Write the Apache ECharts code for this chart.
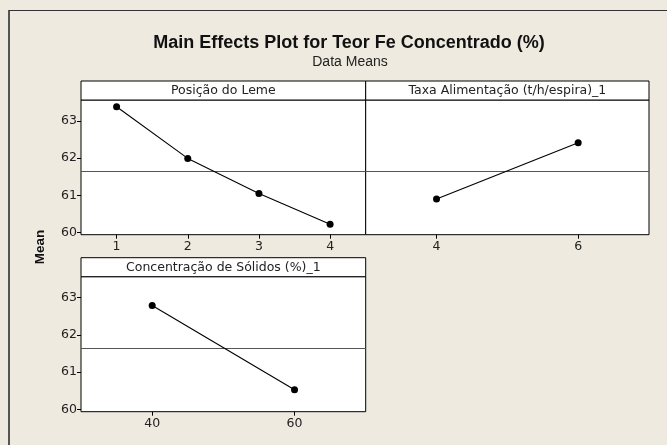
<!DOCTYPE html>
<html>
<head>
<meta charset="utf-8">
<script src="https://cdn.jsdelivr.net/npm/echarts@6/dist/echarts.min.js"></script>
<style>
html,body{margin:0;padding:0;background:#EEEAE0;}
#c{width:667px;height:445px;}
</style>
</head>
<body>
<div id="c"></div>
<script>
// ---- data ----
const posicaoLevels = [1, 2, 3, 4];
const posicaoMeans  = [63.38, 61.99, 61.05, 60.22];
const taxaLevels    = [4, 6];
const taxaMeans     = [60.90, 62.41];
const concLevels    = [40, 60];
const concMeans     = [62.79, 60.53];
const grandMean     = 61.65;
const yTicks        = [60, 61, 62, 63];
const panelTitles   = ['Posição do Leme', 'Taxa Alimentação (t/h/espira)_1', 'Concentração de Sólidos (%)_1'];

// ---- layout ----
const L = 81, MID = 365.7, R = 649;
const TOP1 = 100, H1 = 134.7, TOP2 = 276.7, H2 = 135, STRIP = 19;
const BG = '#EEEAE0';
const TXT = '#222';
const tickFont = {fontFamily: 'DejaVu Sans', fontSize: 12.5, color: TXT};

function grid(left, top, width, height) {
  return {left: left, top: top, width: width, height: height, show: true,
    backgroundColor: '#fff', borderColor: '#000', borderWidth: 1, containLabel: false};
}
function xAx(idx, min, max, ticks) {
  return {type: 'value', gridIndex: idx, min: min, max: max,
    axisLine: {show: false}, splitLine: {show: false},
    axisTick: {show: true, inside: false, length: 4, customValues: ticks, lineStyle: {color: '#000'}},
    axisLabel: Object.assign({show: true, margin: 6, customValues: ticks}, tickFont)};
}
function yAx(idx, show) {
  return {type: 'value', gridIndex: idx, min: 59.94, max: 63.56,
    axisLine: {show: false}, splitLine: {show: false},
    axisTick: {show: show, inside: false, length: 4, customValues: yTicks, lineStyle: {color: '#000'}},
    axisLabel: Object.assign({show: show, margin: 4, customValues: yTicks}, tickFont)};
}
function pts(xs, ys) { return xs.map((x, i) => [x, ys[i]]); }
function ser(idx, xs, ys) {
  return {type: 'line', xAxisIndex: idx, yAxisIndex: idx, data: pts(xs, ys),
    symbol: 'circle', symbolSize: 7, itemStyle: {color: '#000'},
    lineStyle: {color: '#000', width: 1.1}, animation: false, z: 5,
    markLine: {silent: true, symbol: 'none', label: {show: false}, animation: false,
      lineStyle: {color: '#555', width: 1, type: 'solid'}, data: [{yAxis: grandMean}]}};
}
function strip(x1, x2, y, text) {
  return [
    {type: 'rect', shape: {x: x1, y: y - STRIP, width: x2 - x1, height: STRIP},
      style: {fill: '#fff', stroke: '#000', lineWidth: 1}, z: 10},
    {type: 'text', x: (x1 + x2) / 2, y: y - STRIP / 2 + 0.5, z: 11,
      style: {text: text, fill: TXT, align: 'center', verticalAlign: 'middle',
        font: '12.5px "DejaVu Sans"'}}
  ];
}

const chart = echarts.init(document.getElementById('c'), null, {renderer: 'canvas'});
chart.setOption({
  backgroundColor: BG,
  animation: false,
  title: [
    {text: 'Main Effects Plot for Teor Fe Concentrado (%)', left: 344, top: 29, textAlign: 'center',
      textStyle: {fontFamily: 'Liberation Sans', fontWeight: 'bold', fontSize: 18, color: '#111'}},
    {text: 'Data Means', left: 345, top: 50, textAlign: 'center',
      textStyle: {fontFamily: 'Liberation Sans', fontWeight: 'normal', fontSize: 14, color: TXT}}
  ],
  grid: [grid(L, TOP1, MID - L, H1), grid(MID, TOP1, R - MID, H1), grid(L, TOP2, MID - L, H2)],
  xAxis: [xAx(0, 0.5, 4.5, posicaoLevels), xAx(1, 3, 7, taxaLevels), xAx(2, 30, 70, concLevels)],
  yAxis: [yAx(0, true), yAx(1, false), yAx(2, true)],
  series: [ser(0, posicaoLevels, posicaoMeans), ser(1, taxaLevels, taxaMeans), ser(2, concLevels, concMeans)],
  graphic: [
    {type: 'line', shape: {x1: 9, y1: 10, x2: 9, y2: 445}, style: {stroke: '#555', lineWidth: 2}},
    {type: 'line', shape: {x1: 9, y1: 10.5, x2: 667, y2: 10.5}, style: {stroke: '#333', lineWidth: 1.2}},
    {type: 'text', x: 40, y: 247, rotation: Math.PI / 2, z: 11,
      style: {text: 'Mean', fill: '#111', align: 'center', verticalAlign: 'middle',
        font: 'bold 13.5px "Liberation Sans"'}}
  ].concat(strip(L, MID, TOP1, panelTitles[0]), strip(MID, R, TOP1, panelTitles[1]), strip(L, MID, TOP2, panelTitles[2]))
});
</script>
</body>
</html>
